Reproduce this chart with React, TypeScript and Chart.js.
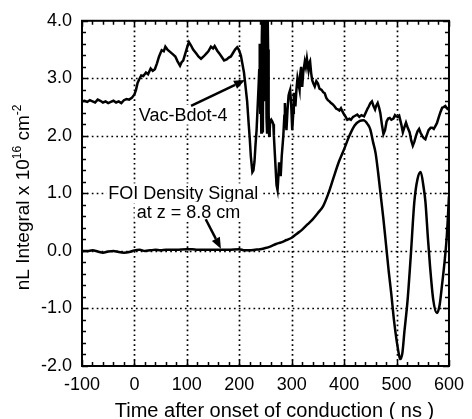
import React, { useEffect, useRef } from 'react';
import { Chart, registerables } from 'chart.js';

Chart.register(...registerables);

// ---- data ----
const xTickValues = [-100, 0, 100, 200, 300, 400, 500, 600];
const yTickValues = [-2, -1, 0, 1, 2, 3, 4];

const vacX = [
  -100, -95, -90, -85, -80, -75, -70, -65, -60, -55, -50, -45, -40, -35, -30, -25, -20, -15, -10, -5,
  0, 3, 6, 9, 13, 17, 22, 26, 31, 35, 39, 43, 47, 52, 56, 59, 63, 68, 73, 78, 82, 87, 90, 93, 96, 99,
  102, 104, 108, 112, 118, 122, 127, 132, 137, 141, 146, 150, 153, 158, 162, 166, 171, 176, 180, 184,
  188, 192, 196, 199, 203, 206, 209, 212, 215, 218, 220, 222, 225, 227, 229, 231, 233, 235, 237, 238,
  239, 240, 241, 242, 243, 244, 245, 246, 247, 248, 249, 250, 251, 252, 253, 254, 255, 256, 257, 258,
  259, 261, 263, 265, 266, 268, 270, 271, 273, 274, 276, 277, 279, 281, 284, 286, 287, 288, 290, 292,
  294, 295, 297, 299, 301, 303, 304, 306, 307, 309, 311, 313, 315, 316, 318, 320, 322, 325, 327, 329,
  331, 332, 334, 335, 337, 339, 341, 344, 347, 350, 353, 357, 360, 363, 366, 369, 372, 375, 378, 382,
  385, 388, 391, 394, 397, 400, 403, 406, 410, 413, 417, 421, 425, 429, 433, 438, 442, 445, 447, 450,
  453, 456, 459, 461, 464, 467, 469, 472, 475, 478, 481, 484, 487, 490, 494, 497, 499, 502, 505, 509,
  512, 515, 518, 521, 525, 528, 531, 534, 537, 540, 543, 546, 549, 552, 555, 558, 561, 565, 568, 571,
  574, 577, 581, 584, 587, 590, 593, 596, 599, 600,
];
const vacY = [
  2.60, 2.61, 2.59, 2.62, 2.60, 2.58, 2.63, 2.61, 2.58, 2.60, 2.57, 2.59, 2.61, 2.58, 2.60, 2.57, 2.62, 2.64, 2.63, 2.66,
  2.72, 2.80, 2.92, 2.98, 3.05, 3.04, 3.10, 3.07, 3.17, 3.13, 3.16, 3.26, 3.38, 3.49, 3.47, 3.55, 3.50, 3.46, 3.42, 3.38, 3.30, 3.22, 3.28, 3.31, 3.40, 3.49,
  3.58, 3.63, 3.57, 3.50, 3.43, 3.38, 3.34, 3.38, 3.43, 3.47, 3.55, 3.52, 3.56, 3.48, 3.43, 3.38, 3.31, 3.33, 3.36, 3.38,
  3.44, 3.50, 3.54, 3.50, 3.40, 3.25, 3.10, 2.85, 2.60, 2.20, 1.95, 1.65, 1.37, 1.40, 1.55, 1.85, 2.10, 2.50, 2.90, 3.14,
  3.60, 2.40, 3.20, 2.06, 3.70, 4.20, 2.06, 3.90, 4.20, 4.20, 2.60, 4.20, 3.80, 2.30, 2.06, 4.20, 3.50, 2.40, 2.00, 2.10,
  2.25, 2.28, 2.25, 2.20, 2.00, 1.66, 1.32, 1.15, 1.06, 1.20, 1.54, 1.45, 1.30, 1.65, 2.00, 2.35, 2.57, 2.35, 2.10, 2.45,
  2.70, 2.74, 2.80, 2.55, 2.10, 2.40, 2.75, 2.65, 2.51, 2.80, 3.00, 2.90, 2.80, 3.05, 3.20, 2.85, 3.10, 3.29, 3.20, 3.34,
  3.20, 3.14, 3.28, 3.30, 3.10, 2.97, 2.92, 2.86, 2.95, 2.91, 2.82, 2.80, 2.76, 2.74, 2.66, 2.62, 2.60, 2.57, 2.55, 2.51,
  2.47, 2.46, 2.44, 2.48, 2.42, 2.37, 2.33, 2.28, 2.30, 2.28, 2.33, 2.35, 2.37, 2.33, 2.36, 2.34, 2.42, 2.48, 2.51, 2.57,
  2.60, 2.52, 2.46, 2.52, 2.57, 2.48, 2.40, 2.20, 2.03, 2.10, 2.25, 2.30, 2.31, 2.28, 2.30, 2.36, 2.34, 2.33, 2.35, 2.20,
  2.06, 2.15, 2.23, 2.15, 2.06, 1.92, 1.83, 1.90, 2.00, 2.08, 2.12, 2.05, 2.00, 1.96, 1.94, 2.02, 2.10, 2.14, 2.14, 2.12,
  2.17, 2.22, 2.34, 2.42, 2.49, 2.50, 2.52, 2.48, 2.46, 2.50,
];

const foiX = [
  -100, -90, -80, -70, -60, -50, -40, -30, -20, -10, 0, 10, 20, 30, 40, 50, 60, 80, 100, 110, 120, 140,
  160, 180, 200, 210, 220, 230, 240, 250, 260, 270, 280, 290, 300, 310, 320, 330, 340, 350, 360, 370,
  380, 390, 400, 410, 420, 430, 437, 445, 450, 455, 460, 465, 470, 475, 480, 485, 490, 495, 500, 505,
  507, 511, 515, 521, 527, 534, 540, 546, 552, 555, 560, 564, 570, 577, 582, 587, 592, 596, 600,
];
const foiY = [
  0.0, 0.0, 0.01, -0.01, -0.03, -0.01, 0.0, -0.02, -0.03, -0.02, 0.01, 0.02, 0.0, 0.01, 0.02, 0.01, 0.02, 0.02, 0.03, 0.03, 0.02, 0.02,
  0.02, 0.02, 0.03, 0.01, 0.01, 0.02, 0.03, 0.05, 0.08, 0.12, 0.15, 0.19, 0.23, 0.30, 0.37, 0.46, 0.55, 0.66, 0.78, 1.0,
  1.28, 1.55, 1.77, 2.0, 2.18, 2.26, 2.27, 2.2, 2.11, 1.9, 1.7, 1.35, 0.95, 0.55, 0.1, -0.35, -0.75, -1.2, -1.55, -1.82,
  -1.88, -1.78, -1.4, -0.86, -0.1, 0.86, 1.25, 1.37, 1.08, 0.86, 0.2, -0.28, -0.85, -1.08, -0.95, -0.57, -0.15, 0.28, 0.95,
];

const FONT = '"Liberation Sans", Arial, Helvetica, sans-serif';

function drawArrow(ctx: CanvasRenderingContext2D, x1: number, y1: number, x2: number, y2: number) {
  const ang = Math.atan2(y2 - y1, x2 - x1);
  const head = 11;
  const hw = 4.5;
  const bx = x2 - head * Math.cos(ang);
  const by = y2 - head * Math.sin(ang);
  ctx.beginPath();
  ctx.moveTo(x1, y1);
  ctx.lineTo(bx, by);
  ctx.lineWidth = 2.5;
  ctx.stroke();
  ctx.beginPath();
  ctx.moveTo(x2, y2);
  ctx.lineTo(bx + hw * Math.sin(ang), by - hw * Math.cos(ang));
  ctx.lineTo(bx - hw * Math.sin(ang), by + hw * Math.cos(ang));
  ctx.closePath();
  ctx.fill();
}

function boxedText(ctx: CanvasRenderingContext2D, text: string, x: number, y: number, align: 'left' | 'center') {
  ctx.font = `18px ${FONT}`;
  const w = ctx.measureText(text).width;
  const left = align === 'left' ? x : x - w / 2;
  ctx.fillStyle = '#fff';
  ctx.fillRect(left - 2, y - 10, w + 4, 20);
  ctx.fillStyle = '#000';
  ctx.textAlign = 'left';
  ctx.textBaseline = 'middle';
  ctx.fillText(text, left, y + 1);
}

const framePlugin = {
  id: 'framePlugin',
  beforeDatasetsDraw(chart: any) {
    const { ctx, chartArea: a, scales } = chart;
    const xs = scales.x;
    const ys = scales.y;
    ctx.save();
    ctx.strokeStyle = '#000';
    ctx.lineWidth = 1.7;
    ctx.setLineDash([1.7, 3.2]);
    for (const v of xTickValues) {
      if (v === xs.min || v === xs.max) continue;
      const px = Math.round(xs.getPixelForValue(v)) + 0.5;
      ctx.beginPath();
      ctx.moveTo(px, a.top);
      ctx.lineTo(px, a.bottom);
      ctx.stroke();
    }
    for (const v of yTickValues) {
      if (v === ys.min || v === ys.max) continue;
      const py = Math.round(ys.getPixelForValue(v)) + 0.5;
      ctx.beginPath();
      ctx.moveTo(a.left, py);
      ctx.lineTo(a.right, py);
      ctx.stroke();
    }
    ctx.restore();
  },
  afterDatasetsDraw(chart: any) {
    const { ctx, chartArea: a, scales } = chart;
    const xs = scales.x;
    const ys = scales.y;
    ctx.save();
    ctx.strokeStyle = '#000';
    ctx.fillStyle = '#000';
    ctx.setLineDash([]);
    // minor / major inward ticks
    ctx.lineWidth = 1.5;
    for (let v = xs.min; v <= xs.max + 1e-6; v += 20) {
      const px = Math.round(xs.getPixelForValue(v)) + 0.5;
      const len = Math.abs(v % 100) < 1e-6 ? 6 : 4;
      ctx.beginPath();
      ctx.moveTo(px, a.top);
      ctx.lineTo(px, a.top + len);
      ctx.moveTo(px, a.bottom);
      ctx.lineTo(px, a.bottom - len);
      ctx.stroke();
    }
    for (let i = 0; i <= 30; i++) {
      const v = ys.min + i * 0.2;
      const py = Math.round(ys.getPixelForValue(v)) + 0.5;
      const len = i % 5 === 0 ? 6 : 4;
      ctx.beginPath();
      ctx.moveTo(a.left, py);
      ctx.lineTo(a.left + len, py);
      ctx.moveTo(a.right, py);
      ctx.lineTo(a.right - len, py);
      ctx.stroke();
    }
    // frame
    ctx.lineWidth = 2;
    ctx.strokeRect(a.left, a.top, a.right - a.left, a.bottom - a.top);

    // annotations (positions in data units)
    const P = (xv: number, yv: number) => [xs.getPixelForValue(xv), ys.getPixelForValue(yv)];
    const [vx, vy] = P(93, 2.37);
    boxedText(ctx, 'Vac-Bdot-4', vx, vy, 'center');
    const [a1x, a1y] = P(108, 2.52);
    const [a2x, a2y] = P(211, 2.97);
    drawArrow(ctx, a1x, a1y, a2x, a2y);

    const [fx, fy] = P(-50, 1.0);
    boxedText(ctx, 'FOI Density Signal', fx, fy, 'left');
    const [zx, zy] = P(103, 0.68);
    boxedText(ctx, 'at z = 8.8 cm', zx, zy, 'center');
    const [b1x, b1y] = P(136, 0.55);
    const [b2x, b2y] = P(165, 0.04);
    drawArrow(ctx, b1x, b1y, b2x, b2y);

    // axis titles
    ctx.fillStyle = '#000';
    ctx.textBaseline = 'alphabetic';
    ctx.textAlign = 'left';
    // x title
    ctx.font = `20px ${FONT}`;
    const xt = 'Time after onset of conduction ( ns )';
    const xtw = ctx.measureText(xt).width;
    ctx.fillText(xt, (a.left + a.right) / 2 + 9 - xtw / 2, 417);

    // y title with superscripts
    const parts: [string, boolean][] = [
      ['nL Integral x 10', false],
      ['16', true],
      [' cm', false],
      ['-2', true],
    ];
    const big = `19px ${FONT}`;
    const small = `12px ${FONT}`;
    let total = 0;
    for (const [t, sup] of parts) {
      ctx.font = sup ? small : big;
      total += ctx.measureText(t).width;
    }
    ctx.save();
    ctx.translate(29, (a.top + a.bottom) / 2 + 4);
    ctx.rotate(-Math.PI / 2);
    let cx = -total / 2;
    for (const [t, sup] of parts) {
      ctx.font = sup ? small : big;
      ctx.fillText(t, cx, sup ? -8 : 0);
      cx += ctx.measureText(t).width;
    }
    ctx.restore();
    ctx.restore();
  },
};

export default function App() {
  const ref = useRef<HTMLCanvasElement | null>(null);
  useEffect(() => {
    document.body.style.margin = '0';
    const canvas = ref.current;
    if (!canvas) return;
    const chart = new Chart(canvas, {
      type: 'line',
      data: {
        datasets: [
          {
            label: 'Vac-Bdot-4',
            data: vacX.map((x, i) => ({ x, y: vacY[i] })),
            borderColor: '#000',
            borderWidth: 2.5,
            pointRadius: 0,
            tension: 0,
            fill: false,
          },
          {
            label: 'FOI Density Signal at z = 8.8 cm',
            data: foiX.map((x, i) => ({ x, y: foiY[i] })),
            borderColor: '#000',
            borderWidth: 2.5,
            pointRadius: 0,
            tension: 0.35,
            cubicInterpolationMode: 'monotone',
            fill: false,
          },
        ],
      },
      options: {
        responsive: false,
        animation: false,
        events: [],
        layout: { padding: { top: 16, right: 14, left: 0, bottom: 0 } },
        plugins: {
          legend: { display: false },
          tooltip: { enabled: false },
          title: { display: false },
        },
        scales: {
          x: {
            type: 'linear',
            min: -100,
            max: 600,
            grid: { display: false, drawTicks: false },
            border: { display: false },
            afterFit: (s: any) => { s.height = 53; },
            afterBuildTicks: (s: any) => { s.ticks = xTickValues.map((v) => ({ value: v })); },
            ticks: {
              autoSkip: false,
              maxRotation: 0,
              padding: 8,
              color: '#000',
              font: { family: FONT, size: 18 },
              callback: (v: any) => String(v),
            },
          },
          y: {
            type: 'linear',
            min: -2,
            max: 4,
            grid: { display: false, drawTicks: false },
            border: { display: false },
            afterFit: (s: any) => { s.width = 82; },
            afterBuildTicks: (s: any) => { s.ticks = yTickValues.map((v) => ({ value: v })); },
            ticks: {
              autoSkip: false,
              padding: 10,
              color: '#000',
              font: { family: FONT, size: 18 },
              callback: (v: any) => Number(v).toFixed(1),
            },
          },
        },
      },
      plugins: [framePlugin],
    } as any);
    return () => chart.destroy();
  }, []);
  return <canvas ref={ref} width={472} height={419} style={{ display: 'block' }} />;
}
